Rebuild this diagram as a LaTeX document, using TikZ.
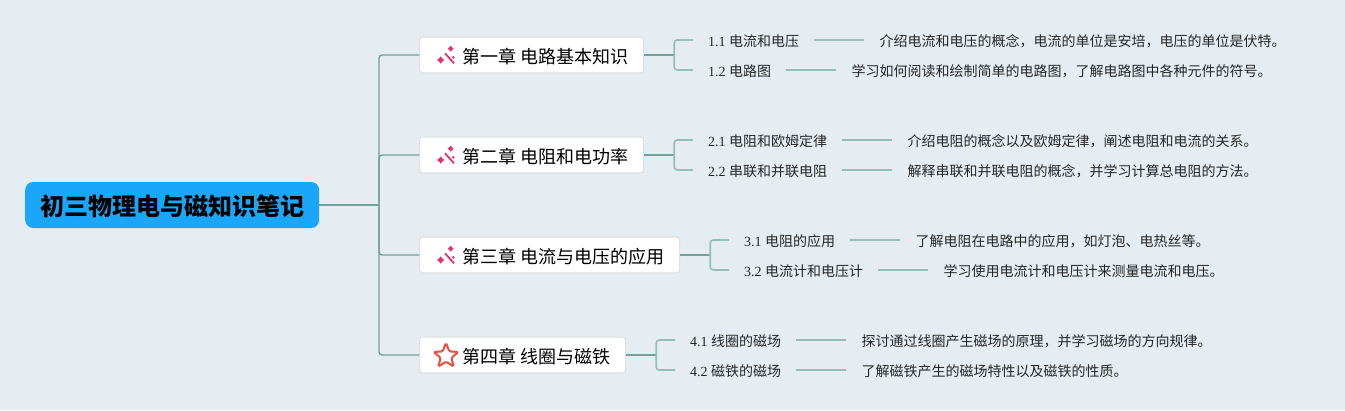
\documentclass[tikz,border=0pt]{standalone}
\usepackage{fontspec}
\setmainfont{Liberation Serif}
\newfontfamily\cjk{Noto Sans CJK SC}
\usetikzlibrary{positioning,calc,shapes.geometric}
\definecolor{bgcol}{HTML}{E5EDF2}
\definecolor{rootcol}{HTML}{1AA7FA}
\definecolor{trunkcol}{HTML}{6FA397}
\definecolor{twigcol}{HTML}{95BFB6}
\definecolor{edgecol}{HTML}{DDE1E5}
\definecolor{wandcol}{HTML}{E8306B}
\definecolor{starcol}{HTML}{E8513F}
\newcommand{\sparkle}[3]{\fill[wandcol] (#1,#2-#3) -- (#1+.45*#3,#2-.45*#3) -- (#1+#3,#2) -- (#1+.45*#3,#2+.45*#3) -- (#1,#2+#3) -- (#1-.45*#3,#2+.45*#3) -- (#1-#3,#2) -- (#1-.45*#3,#2-.45*#3) -- cycle;}
\tikzset{
  rootbox/.style={fill=rootcol,rounded corners=8pt,inner xsep=15pt,inner ysep=0pt,minimum height=46pt,text height=21.4pt,text depth=0pt,anchor=west,font=\cjk\bfseries\fontsize{24}{28}\selectfont},
  chapter/.style={draw=edgecol,line width=1.2pt,fill=white,rounded corners=3pt,inner xsep=15pt,inner ysep=0pt,minimum height=36pt,text height=16.5pt,text depth=0pt,anchor=west,font=\cjk\fontsize{18}{22}\selectfont},
  leaf/.style={inner xsep=15pt,inner ysep=2pt,text height=12.6pt,text depth=0pt,anchor=west,text=black!85,font=\fontsize{14}{17}\selectfont},
  trunk/.style={draw=trunkcol,line width=1.4pt,rounded corners=3pt},
  stem/.style={draw=trunkcol,line width=1.8pt},
  twig/.style={draw=twigcol,line width=1.6pt,rounded corners=3pt},
  wand/.pic={
    \draw[wandcol,line width=1.8pt] (-2,-2.7) -- (7,7.3);
    \sparkle{-6.3}{4}{3.6}
    \sparkle{3.7}{-7.3}{3}
    \sparkle{6.3}{1.3}{1.5}
  }
}
\newcommand{\ct}[1]{{\cjk #1}}
\begin{document}
\begin{tikzpicture}[x=1pt,y=-1pt]
\useasboundingbox[fill=bgcol] (0,0) rectangle (1345,410);
% root and chapters
\node[rootbox] (root) at (25,205) {初三物理电与磁知识笔记};
\node[chapter] (ch1) at (419,55) {\hspace*{28pt}第一章 电路基本知识};
\node[chapter] (ch2) at (419,155) {\hspace*{28pt}第二章 电阻和电功率};
\node[chapter] (ch3) at (419,255) {\hspace*{28pt}第三章 电流与电压的应用};
\node[chapter] (ch4) at (419,355) {\hspace*{28pt}第四章 线圈与磁铁};
\coordinate (fork) at (379,205);
\pic at (447,56) {wand};
\pic at (447,156) {wand};
\pic at (447,256) {wand};
\node[star,star points=5,star point ratio=2.3,draw=starcol,line width=2pt,rounded corners=1.5pt,minimum size=26pt,inner sep=0pt] (ico4) at (446,356) {};
% leaves
\node[leaf] (a1) at (693,40) {1.1 \ct{电流和电压}};
\node[leaf,right=50pt of a1] (a1d) {\ct{介绍电流和电压的概念，电流的单位是安培，电压的单位是伏特。}};
\node[leaf] (a2) at (693,70) {1.2 \ct{电路图}};
\node[leaf,right=50pt of a2] (a2d) {\ct{学习如何阅读和绘制简单的电路图，了解电路图中各种元件的符号。}};
\node[leaf] (b1) at (693,140) {2.1 \ct{电阻和欧姆定律}};
\node[leaf,right=50pt of b1] (b1d) {\ct{介绍电阻的概念以及欧姆定律，阐述电阻和电流的关系。}};
\node[leaf] (b2) at (693,170) {2.2 \ct{串联和并联电阻}};
\node[leaf,right=50pt of b2] (b2d) {\ct{解释串联和并联电阻的概念，并学习计算总电阻的方法。}};
\node[leaf] (c1) at (729,240) {3.1 \ct{电阻的应用}};
\node[leaf,right=50pt of c1] (c1d) {\ct{了解电阻在电路中的应用，如灯泡、电热丝等。}};
\node[leaf] (c2) at (729,270) {3.2 \ct{电流计和电压计}};
\node[leaf,right=50pt of c2] (c2d) {\ct{学习使用电流计和电压计来测量电流和电压。}};
\node[leaf] (d1) at (675,340) {4.1 \ct{线圈的磁场}};
\node[leaf,right=50pt of d1] (d1d) {\ct{探讨通过线圈产生磁场的原理，并学习磁场的方向规律。}};
\node[leaf] (d2) at (675,370) {4.2 \ct{磁铁的磁场}};
\node[leaf,right=50pt of d2] (d2d) {\ct{了解磁铁产生的磁场特性以及磁铁的性质。}};
% connectors
\draw[trunk] (root.east) -- (fork);
\draw[trunk] (fork) |- (ch1.west);
\draw[trunk] (fork) |- (ch2.west);
\draw[trunk] (fork) |- (ch3.west);
\draw[trunk] (fork) |- (ch4.west);
\draw[stem] (ch1.east) -- ++(30,0);
\draw[stem] (ch2.east) -- ++(30,0);
\draw[stem] (ch3.east) -- ++(30,0);
\draw[stem] (ch4.east) -- ++(30,0);
\draw[twig] ($(ch1.east)+(30,0)$) |- (a1.west);
\draw[twig] ($(ch1.east)+(30,0)$) |- (a2.west);
\draw[twig] ($(ch2.east)+(30,0)$) |- (b1.west);
\draw[twig] ($(ch2.east)+(30,0)$) |- (b2.west);
\draw[twig] ($(ch3.east)+(30,0)$) |- (c1.west);
\draw[twig] ($(ch3.east)+(30,0)$) |- (c2.west);
\draw[twig] ($(ch4.east)+(30,0)$) |- (d1.west);
\draw[twig] ($(ch4.east)+(30,0)$) |- (d2.west);
\draw[twig] (a1) -- (a1d);
\draw[twig] (a2) -- (a2d);
\draw[twig] (b1) -- (b1d);
\draw[twig] (b2) -- (b2d);
\draw[twig] (c1) -- (c1d);
\draw[twig] (c2) -- (c2d);
\draw[twig] (d1) -- (d1d);
\draw[twig] (d2) -- (d2d);
\end{tikzpicture}
\end{document}
